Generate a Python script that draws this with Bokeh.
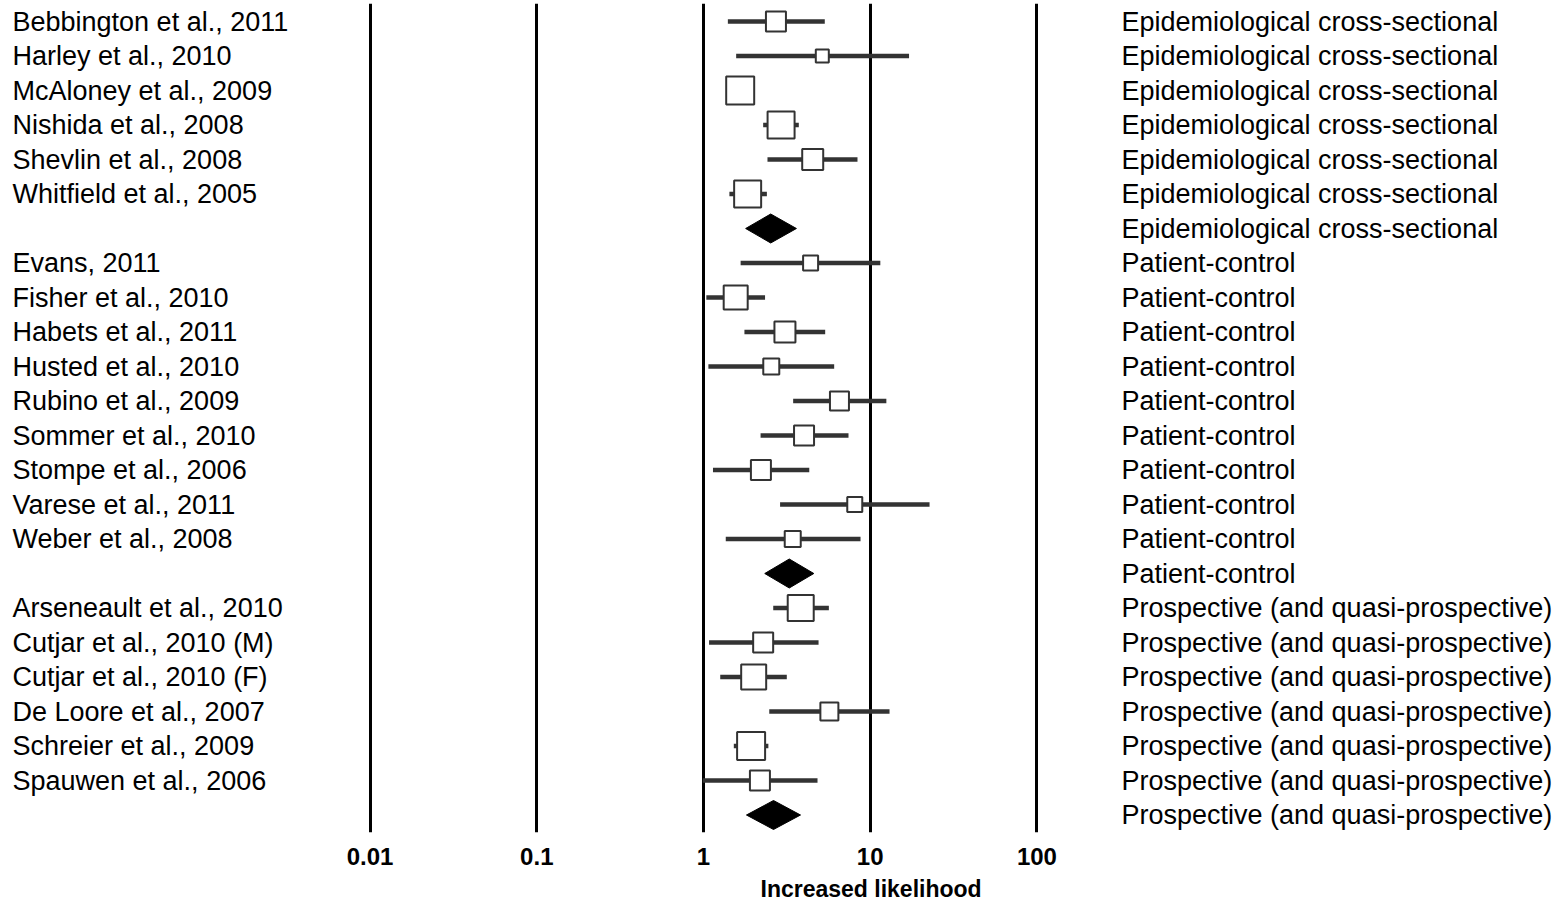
from bokeh.plotting import figure
from bokeh.models import ColumnDataSource, LabelSet, Title, Range1d, FixedTicker, NumeralTickFormatter
from bokeh.core.properties import value
from bokeh.embed import file_html
from bokeh.resources import INLINE

# ---- data ----
groups = ["Epidemiological cross-sectional", "Patient-control", "Prospective (and quasi-prospective)"]

epi_names = ["Bebbington et al., 2011", "Harley et al., 2010", "McAloney et al., 2009",
             "Nishida et al., 2008", "Shevlin et al., 2008", "Whitfield et al., 2005"]
epi_est = [2.72, 5.16, 1.66, 2.92, 4.52, 1.84]
epi_lo = [1.40, 1.57, 1.55, 2.28, 2.42, 1.43]
epi_hi = [5.34, 17.1, 1.78, 3.73, 8.39, 2.40]
epi_w = [22, 15, 30, 29, 23, 29]
epi_pooled = (2.53, 1.79, 3.61)

pc_names = ["Evans, 2011", "Fisher et al., 2010", "Habets et al., 2011", "Husted et al., 2010",
            "Rubino et al., 2009", "Sommer et al., 2010", "Stompe et al., 2006",
            "Varese et al., 2011", "Weber et al., 2008"]
pc_est = [4.39, 1.56, 3.08, 2.55, 6.54, 4.01, 2.21, 8.08, 3.43]
pc_lo = [1.67, 1.04, 1.76, 1.07, 3.45, 2.20, 1.14, 2.88, 1.36]
pc_hi = [11.5, 2.34, 5.37, 6.08, 12.5, 7.41, 4.31, 22.7, 8.75]
pc_w = [17, 26, 23, 18, 21, 22, 22, 17, 18]
pc_pooled = (3.27, 2.33, 4.59)

pro_names = ["Arseneault et al., 2010", "Cutjar et al., 2010 (M)", "Cutjar et al., 2010 (F)",
             "De Loore et al., 2007", "Schreier et al., 2009", "Spauwen et al., 2006"]
pro_est = [3.83, 2.28, 2.00, 5.69, 1.93, 2.18]
pro_lo = [2.62, 1.08, 1.26, 2.48, 1.52, 0.99]
pro_hi = [5.65, 4.90, 3.16, 13.06, 2.45, 4.83]
pro_w = [28, 22, 27, 20, 30, 22]
pro_pooled = (2.63, 1.81, 3.82)

ticks = [0.01, 0.1, 1, 10, 100]
axis_title = "Increased likelihood"

# ---- build rows ----
all_sets = [
    (groups[0], epi_names, epi_est, epi_lo, epi_hi, epi_w, epi_pooled),
    (groups[1], pc_names, pc_est, pc_lo, pc_hi, pc_w, pc_pooled),
    (groups[2], pro_names, pro_est, pro_lo, pro_hi, pro_w, pro_pooled),
]
st = dict(row=[], name=[], est=[], lo=[], hi=[], size=[])
lab = dict(row=[], name=[], group=[])
dia = dict(xs=[], ys=[])
r = 0
for g, names, est, lo, hi, w, pooled in all_sets:
    for n, e, l, h, s in zip(names, est, lo, hi, w):
        st["row"].append(r); st["name"].append(n); st["est"].append(e)
        st["lo"].append(l); st["hi"].append(h); st["size"].append(s - 2)
        lab["row"].append(r); lab["name"].append(n); lab["group"].append(g)
        r += 1
    pe, pl, ph = pooled
    dia["xs"].append([pl, pe, ph, pe])
    dia["ys"].append([r, r - 0.42, r, r + 0.42])
    lab["row"].append(r); lab["name"].append(""); lab["group"].append(g)
    r += 1

px_row = 34.5
top_px = 3
frame_h = 829
y_top = -(21 - top_px) / px_row
y_bot = y_top + frame_h / px_row

p = figure(width=1562, height=908, x_axis_type="log", output_backend="svg",
           toolbar_location=None, min_border_left=0, min_border_right=0,
           min_border_top=top_px, min_border_bottom=908 - top_px - frame_h,
           x_range=Range1d(10 ** (-703 / 166.7), 10 ** ((1562 - 703) / 166.7)),
           y_range=Range1d(y_bot, y_top))
p.outline_line_color = None
p.background_fill_color = "white"
p.border_fill_color = "white"
p.yaxis.visible = False
p.ygrid.visible = False

p.xaxis.ticker = FixedTicker(ticks=ticks, minor_ticks=[])
p.xaxis.formatter = NumeralTickFormatter(format="0.[00]")
p.xaxis.axis_line_color = None
p.xaxis.major_tick_line_color = None
p.xaxis.minor_tick_line_color = None
p.xaxis.major_label_text_font = "Liberation Sans"
p.xaxis.major_label_text_font_style = "bold"
p.xaxis.major_label_text_font_size = "24px"
p.xaxis.major_label_text_color = "black"
p.xaxis.major_label_standoff = 9
p.xgrid.ticker = FixedTicker(ticks=ticks, minor_ticks=[])
p.xgrid.grid_line_color = "black"
p.xgrid.grid_line_width = 3

src = ColumnDataSource(st)
p.segment(x0="lo", x1="hi", y0="row", y1="row", source=src, line_color="#333333", line_width=4.5)
p.scatter(x="est", y="row", size="size", marker="square", source=src,
          fill_color="white", line_color="#333333", line_width=2)
p.patches(xs="xs", ys="ys", source=ColumnDataSource(dia), fill_color="black", line_color="black")

lsrc = ColumnDataSource(lab)
p.add_layout(LabelSet(x=12, y="row", x_units="screen", text="name", source=lsrc,
                      text_font=value("Liberation Sans"), text_font_size=value("27px"),
                      text_baseline="middle", text_align="left", text_color="black"))
p.add_layout(LabelSet(x=1121, y="row", x_units="screen", text="group", source=lsrc,
                      text_font=value("Liberation Sans"), text_font_size=value("27px"),
                      text_baseline="middle", text_align="left", text_color="black"))
p.add_layout(Title(text=axis_title, align="left", offset=760, standoff=13,
                   text_font="Liberation Sans", text_font_style="bold", text_font_size="23px",
                   text_line_height=0.8, text_color="black"), "below")

open("out.html", "w").write(file_html(p, INLINE))
